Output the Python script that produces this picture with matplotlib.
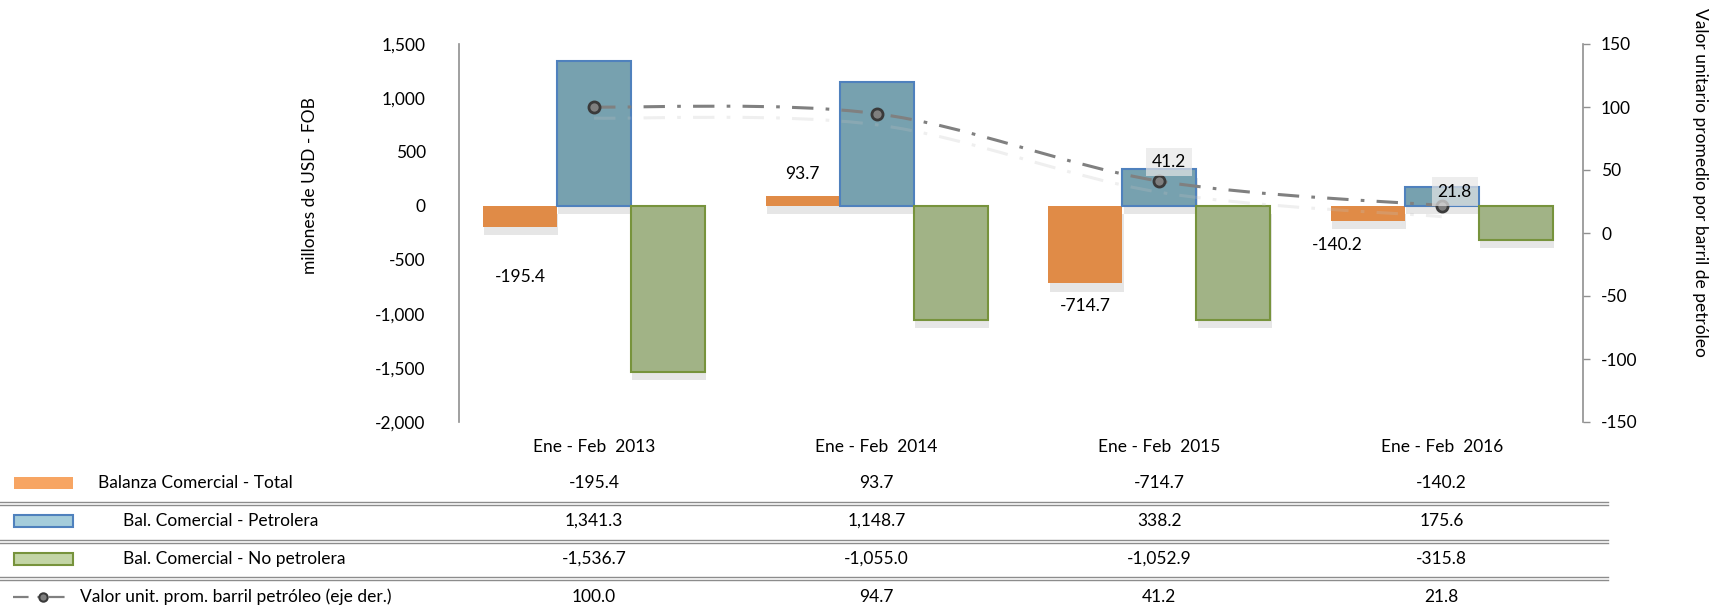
import numpy as np
import matplotlib.pyplot as plt
from matplotlib.path import Path
from matplotlib.patches import PathPatch
from matplotlib.lines import Line2D
from matplotlib.patches import Rectangle
import matplotlib.patheffects as pe

plt.rcParams['font.family'] = ['Lato', 'DejaVu Sans']
plt.rcParams['axes.unicode_minus'] = False

# Data
categories = ["Ene - Feb  2013", "Ene - Feb  2014", "Ene - Feb  2015", "Ene - Feb  2016"]
total = [-195.4, 93.7, -714.7, -140.2]
petrolera = [1341.3, 1148.7, 338.2, 175.6]
no_petrolera = [-1536.7, -1055.0, -1052.9, -315.8]
barril = [100.0, 94.7, 41.2, 21.8]

series_names = ["Balanza Comercial - Total", "Bal. Comercial - Petrolera",
                "Bal. Comercial - No petrolera",
                "Valor unit. prom. barril petróleo (eje der.)"]

W, H = 1716, 609
fig = plt.figure(figsize=(W / 100, H / 100), dpi=100)
ax = fig.add_axes([459 / W, 1 - 422 / H, (1583 - 459) / W, (422 - 44) / H])
ax2 = ax.twinx()

x = np.arange(len(categories))
bw = 0.262
shadow = [pe.SimplePatchShadow(offset=(1, -6), shadow_rgbFace='#909090', alpha=0.22), pe.Normal()]

b1 = ax.bar(x - bw, total, bw, color='#E08B47', edgecolor='none', zorder=2)
b2 = ax.bar(x, petrolera, bw, color='#77A1AF', edgecolor='#4F81BD', linewidth=1.5, zorder=2)
b3 = ax.bar(x + bw, no_petrolera, bw, color='#A1B386', edgecolor='#77933C', linewidth=1.5, zorder=2)
for bars in (b1, b2, b3):
    for b in bars:
        b.set_path_effects(shadow)

ax.set_xlim(-0.478, 3.5)
ax.set_ylim(-2000, 1500)
ax.set_yticks(np.arange(-2000, 1501, 500))
ax.yaxis.set_major_formatter(plt.FuncFormatter(lambda v, p: f"{v:,.0f}"))
ax.tick_params(axis='y', length=0, pad=24, labelsize=12.5)
ax.set_xticks(x)
ax.set_xticklabels(categories)
ax.tick_params(axis='x', length=0, pad=12, labelsize=12.5)
for s in ['top', 'right', 'bottom']:
    ax.spines[s].set_visible(False)
ax.spines['left'].set_color('#909090')
ax.spines['left'].set_linewidth(1.2)

# orange labels
lab_off = [(0, -50), (0, 22), (0, -23), (-30, -24)]
for i, v in enumerate(total):
    ax.annotate(f"{v:,.1f}", (x[i] - bw, v), xytext=lab_off[i], textcoords='offset pixels',
                ha='center', va='center', fontsize=12.5)

# right axis line (smoothed)
ax2.set_ylim(-150, 150)
ax2.set_yticks(np.arange(-150, 151, 50))
ax2.tick_params(axis='y', length=5, width=1, color='#909090', pad=8, labelsize=12.5)
for s in ['top', 'left', 'bottom']:
    ax2.spines[s].set_visible(False)
ax2.spines['right'].set_color('#909090')
ax2.spines['right'].set_linewidth(1.2)

pts = np.column_stack([x, barril]).astype(float)
verts = [tuple(pts[0])]
codes = [Path.MOVETO]
for i in range(len(pts) - 1):
    p0 = pts[max(i - 1, 0)]
    p1 = pts[i]
    p2 = pts[i + 1]
    p3 = pts[min(i + 2, len(pts) - 1)]
    c1 = p1 + (p2 - p0) / 6
    c2 = p2 - (p3 - p1) / 6
    verts += [tuple(c1), tuple(c2), tuple(p2)]
    codes += [Path.CURVE4] * 3
curve = PathPatch(Path(verts, codes), facecolor='none', edgecolor='#808080', lw=2.2,
                  linestyle=(0, (7, 4, 1.2, 4)), zorder=3)
curve.set_path_effects([pe.SimpleLineShadow(offset=(0, -8), shadow_color='#c0c0c0', alpha=0.25), pe.Normal()])
ax2.add_patch(curve)
ax2.plot(x, barril, linestyle='none', marker='o', markersize=8, markerfacecolor='#7F7F7F',
         markeredgecolor='#3A3A3A', markeredgewidth=2, zorder=4)

line_off = [(10, 19), (13, 14)]
for j, i in enumerate([2, 3]):
    ax2.annotate(f"{barril[i]:.1f}", (x[i], barril[i]), xytext=line_off[j], textcoords='offset pixels',
                 ha='center', va='center', fontsize=12.5, zorder=5,
                 bbox=dict(boxstyle='square,pad=0.35', fc='#E6E6E6', ec='none', alpha=0.7))

fig.text(310 / W, 1 - 186 / H, "millones de USD - FOB", rotation=90, ha='center', va='center', fontsize=12.5)
fig.text(1700 / W, 1 - 8 / H, "Valor unitario promedio por barril de petróleo", rotation=270,
         ha='center', va='top', fontsize=12.5)

# data table below the chart
row_y = [483, 521, 559, 597]
col_x = [ax.transData.transform((xi, 0))[0] for xi in x]
table_vals = [total, petrolera, no_petrolera, barril]
text_x = [98, 123, 123, 80]
for r in range(4):
    yf = 1 - row_y[r] / H
    fig.text(text_x[r] / W, yf, series_names[r], ha='left', va='center', fontsize=12.5)
    for c in range(4):
        fig.text(col_x[c] / W, yf, f"{table_vals[r][c]:,.1f}", ha='center', va='center', fontsize=12.5)

sym = [('#F7A563', 'none'), ('#A5CDDB', '#4F81BD'), ('#C3D5A6', '#77933C')]
for r in range(3):
    fc, ec = sym[r]
    fig.add_artist(Rectangle((14 / W, 1 - (row_y[r] + 6) / H), 59 / W, 12 / H, transform=fig.transFigure,
                             facecolor=fc, edgecolor=ec, linewidth=1.5))
yf = 1 - row_y[3] / H
fig.add_artist(Line2D([13 / W, 73 / W], [yf, yf], transform=fig.transFigure, color='#808080', lw=1.6,
                      linestyle=(0, (7, 4, 1.2, 4))))
fig.add_artist(Line2D([43 / W], [yf], transform=fig.transFigure, marker='o', markersize=6,
                      markerfacecolor='#7F7F7F', markeredgecolor='#3A3A3A', markeredgewidth=1.5))

for sy in [503, 541, 578]:
    for d in (-1.5, 1.5):
        fig.add_artist(Line2D([0, 1608 / W], [1 - (sy + d) / H] * 2, transform=fig.transFigure,
                              color='#8C8C8C', lw=1))

fig.savefig("out.png", dpi=100)
